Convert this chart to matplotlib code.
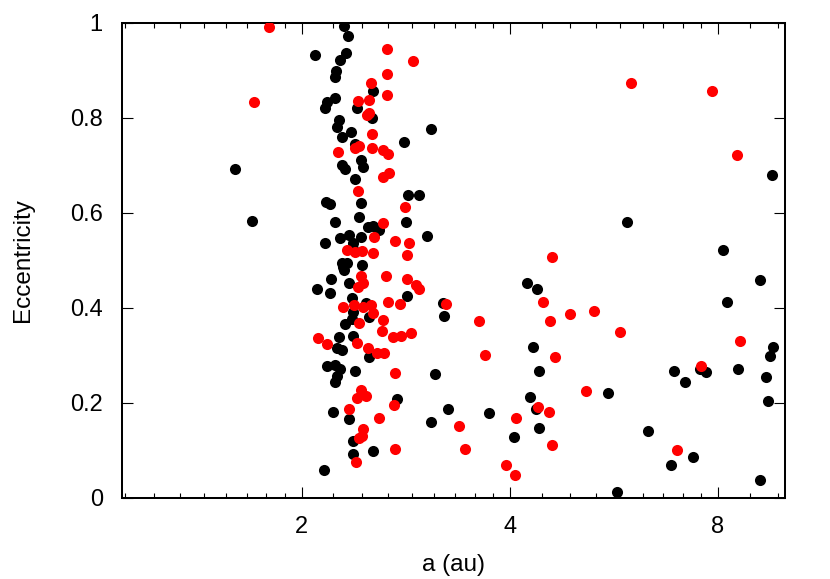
import matplotlib
matplotlib.use("Agg")
import matplotlib.pyplot as plt
from matplotlib.ticker import FixedLocator, NullFormatter

plt.rcParams['font.family'] = ['Liberation Sans', 'DejaVu Sans']

# (a [au], eccentricity) pairs
black_points = [
    (1.60, 0.691), (1.697, 0.583), (2.302, 0.994), (2.331, 0.971), (2.093, 0.932),
    (2.315, 0.936), (2.272, 0.921), (2.240, 0.899), (2.235, 0.886), (2.538, 0.856),
    (2.402, 0.821), (2.235, 0.841), (2.178, 0.834), (2.159, 0.821), (2.529, 0.800),
    (2.264, 0.795), (2.247, 0.781), (2.354, 0.769), (2.285, 0.760), (3.075, 0.776),
    (2.808, 0.749), (2.391, 0.744), (2.436, 0.711), (2.455, 0.697), (2.287, 0.700),
    (2.312, 0.693), (2.388, 0.672), (2.846, 0.638), (2.955, 0.638), (2.169, 0.622),
    (2.197, 0.618), (2.434, 0.620), (2.420, 0.592), (2.232, 0.581), (2.830, 0.581),
    (2.491, 0.569), (2.538, 0.573), (2.587, 0.564), (2.343, 0.553), (2.272, 0.547),
    (2.434, 0.549), (3.035, 0.550), (2.161, 0.537), (2.375, 0.536), (2.370, 0.523),
    (2.285, 0.495), (2.323, 0.495), (2.297, 0.486), (2.444, 0.490), (2.304, 0.479),
    (2.205, 0.461), (2.341, 0.453), (2.102, 0.440), (2.200, 0.431), (2.836, 0.425),
    (2.362, 0.421), (3.204, 0.409), (3.215, 0.383), (2.370, 0.392), (2.475, 0.409),
    (2.502, 0.381), (2.310, 0.366), (2.365, 0.376), (2.264, 0.338), (2.372, 0.340),
    (2.247, 0.315), (2.285, 0.312), (2.504, 0.296), (2.173, 0.278), (2.235, 0.279),
    (2.272, 0.270), (2.247, 0.256), (2.235, 0.244), (2.388, 0.267), (3.117, 0.260),
    (2.746, 0.207), (2.222, 0.181), (2.343, 0.165), (3.072, 0.160), (2.375, 0.119),
    (2.370, 0.093), (2.538, 0.098), (2.152, 0.058),
    (9.58, 0.679), (5.90, 0.581), (8.13, 0.521), (4.24, 0.453), (4.38, 0.439),
    (9.20, 0.459), (8.24, 0.413), (9.61, 0.318), (9.52, 0.298), (4.32, 0.317),
    (4.40, 0.267), (6.91, 0.267), (7.53, 0.270), (7.68, 0.265), (8.55, 0.272),
    (9.40, 0.254), (7.16, 0.243), (5.55, 0.220), (4.28, 0.211), (3.26, 0.187),
    (3.73, 0.179), (4.36, 0.186), (9.45, 0.204), (4.06, 0.128), (4.40, 0.147),
    (6.33, 0.140), (7.35, 0.086), (6.83, 0.068), (9.20, 0.037), (5.72, 0.011),
]

red_points = [
    (1.792, 0.990), (1.706, 0.832), (2.659, 0.945), (2.900, 0.920), (2.654, 0.891),
    (2.516, 0.872), (2.657, 0.848), (2.412, 0.836), (2.502, 0.837), (2.502, 0.809),
    (2.488, 0.806), (2.527, 0.766), (2.418, 0.741), (2.391, 0.736), (2.529, 0.736),
    (2.619, 0.732), (2.663, 0.724), (2.259, 0.728), (2.672, 0.684), (2.624, 0.675),
    (2.412, 0.646), (2.823, 0.612), (2.619, 0.578), (2.544, 0.549), (2.726, 0.541),
    (2.858, 0.537), (2.323, 0.521), (2.391, 0.517), (2.444, 0.519), (2.534, 0.516),
    (2.836, 0.511), (2.439, 0.467), (2.455, 0.451), (2.410, 0.444), (2.650, 0.467),
    (2.839, 0.460), (2.925, 0.448), (2.955, 0.439), (2.292, 0.401), (2.380, 0.406),
    (2.455, 0.401), (2.516, 0.406), (2.534, 0.389), (2.668, 0.411), (2.774, 0.408),
    (2.418, 0.368), (2.619, 0.374), (2.610, 0.350), (2.708, 0.339), (2.783, 0.341),
    (2.877, 0.347), (2.114, 0.337), (2.173, 0.323), (2.402, 0.325), (2.494, 0.315),
    (2.572, 0.304), (2.630, 0.304), (2.731, 0.263), (2.439, 0.227), (2.475, 0.214),
    (2.402, 0.209), (2.719, 0.196), (2.339, 0.186), (2.587, 0.168), (2.453, 0.144),
    (2.442, 0.130), (2.423, 0.125), (2.731, 0.103), (2.396, 0.076),
    (5.98, 0.874), (7.83, 0.857), (8.53, 0.721), (4.60, 0.506), (3.233, 0.407),
    (3.612, 0.371), (4.469, 0.412), (4.884, 0.387), (5.29, 0.393), (4.574, 0.372),
    (5.78, 0.348), (8.61, 0.329), (3.681, 0.300), (4.651, 0.296), (7.57, 0.277),
    (5.156, 0.225), (4.386, 0.192), (4.55, 0.181), (3.372, 0.152), (4.077, 0.168),
    (3.440, 0.103), (4.596, 0.112), (6.97, 0.100), (3.947, 0.069), (4.071, 0.048),
]

x_major = [2, 4, 8]
x_labels = ["2", "4", "8"]
y_major = [0, 0.2, 0.4, 0.6, 0.8, 1.0]
y_labels = ["0", "0.2", "0.4", "0.6", "0.8", "1"]

fig = plt.figure(figsize=(8.30, 5.79), dpi=100)
ax = fig.add_axes([0.1473, 0.1404, 0.7985, 0.8204])

bx = [p[0] for p in black_points]
by = [p[1] for p in black_points]
rx = [p[0] for p in red_points]
ry = [p[1] for p in red_points]

ax.scatter(bx, by, s=64, c='black', linewidths=0, zorder=3)
ax.scatter(rx, ry, s=64, c='#ff0000', linewidths=0, zorder=4)

ax.set_xscale('log', base=2)
ax.set_xlim(1.1, 10)
ax.set_ylim(0, 1)

ax.xaxis.set_major_locator(FixedLocator(x_major))
ax.set_xticklabels(x_labels)
minor = []
for b in (1, 2, 4, 8):
    for k in range(1, 9):
        v = b + k * b / 9.0
        if 1.1 <= v <= 10:
            minor.append(v)
ax.xaxis.set_minor_locator(FixedLocator(minor))
ax.xaxis.set_minor_formatter(NullFormatter())
ax.set_yticks(y_major)
ax.set_yticklabels(y_labels)

ax.tick_params(which='both', direction='in', top=True, right=True,
               width=0.8, color='black', labelsize=17)
ax.tick_params(which='major', length=8.0)
ax.tick_params(which='minor', length=3.8)
ax.tick_params(axis='x', pad=13)
ax.tick_params(axis='y', pad=14)

for sp in ax.spines.values():
    sp.set_linewidth(1.45)

ax.set_xlabel('a (au)', fontsize=17.5, labelpad=12)
ax.set_ylabel('Eccentricity', fontsize=17.5, labelpad=26)

fig.savefig('out.png', dpi=100)
